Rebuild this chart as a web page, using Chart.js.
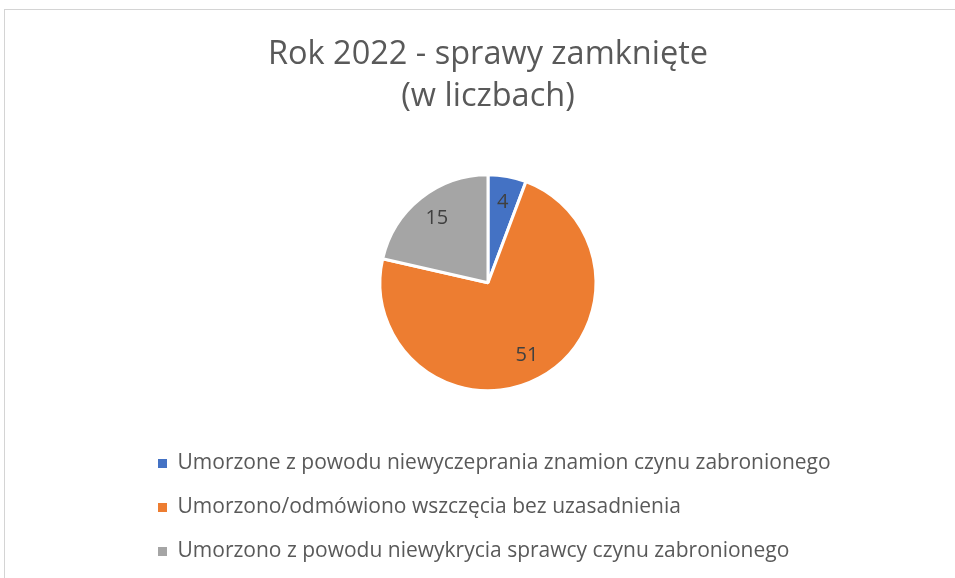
<!DOCTYPE html>
<html>
<head>
<meta charset="utf-8">
<script src="https://cdn.jsdelivr.net/npm/chart.js@4.4.0/dist/chart.umd.min.js"></script>
<style>
  html, body { margin: 0; padding: 0; background: #ffffff; overflow: hidden; }
  #frame {
    position: absolute; left: 4px; top: 9px; width: 1000px; height: 700px;
    border-left: 1px solid #d4d4d4; border-top: 1px solid #d4d4d4;
  }
  #chart { position: absolute; left: 0; top: 0; }
</style>
</head>
<body>
<div id="frame"></div>
<canvas id="chart" width="955" height="578"></canvas>
<script>
const titleLines = ['Rok 2022 - sprawy zamknięte', '(w liczbach)'];
const categories = [
    'Umorzone z powodu niewyczeprania znamion czynu zabronionego',
    'Umorzono/odmówiono wszczęcia bez uzasadnienia',
    'Umorzono z powodu niewykrycia sprawcy czynu zabronionego'
];
const values = [4, 51, 15];
const colors = ['#4472C4', '#ED7D31', '#A5A5A5'];

const fontFamily = '"Open Sans", Lato, sans-serif';

// numbers inside slices
const sliceLabels = {
    id: 'sliceLabels',
    afterDatasetsDraw(chart) {
        const ctx = chart.ctx;
        const meta = chart.getDatasetMeta(0);
        ctx.save();
        ctx.font = '20px ' + fontFamily;
        ctx.fillStyle = '#404040';
        ctx.textAlign = 'center';
        ctx.textBaseline = 'middle';
        meta.data.forEach((arc, i) => {
            const p = arc.getProps(['x', 'y', 'startAngle', 'endAngle', 'outerRadius'], true);
            const mid = (p.startAngle + p.endAngle) / 2;
            const r = p.outerRadius * 0.76;
            ctx.fillText(String(values[i]), p.x + Math.cos(mid) * r, p.y + Math.sin(mid) * r);
        });
        ctx.restore();
    }
};

const ctx = document.getElementById('chart').getContext('2d');
new Chart(ctx, {
    type: 'pie',
    data: {
        labels: categories,
        datasets: [{
            data: values,
            backgroundColor: colors,
            borderColor: '#ffffff',
            borderWidth: 3,
            radius: 108
        }]
    },
    options: {
        responsive: false,
        animation: false,
        layout: {
            padding: { left: 135, right: 114, top: 0, bottom: 6 }
        },
        plugins: {
            title: {
                display: true,
                text: titleLines,
                color: '#595959',
                font: { family: fontFamily, size: 32.5, weight: 'normal', lineHeight: 42 / 32.5 },
                padding: { top: 34, bottom: 17.5 }
            },
            legend: {
                position: 'bottom',
                align: 'start',
                labels: {
                    color: '#595959',
                    font: { family: fontFamily, size: 21 },
                    boxWidth: 9,
                    boxHeight: 9,
                    padding: 23,
                    generateLabels(chart) {
                        const items = Chart.overrides.pie.plugins.legend.labels.generateLabels(chart);
                        items.forEach(it => { it.lineWidth = 0; it.strokeStyle = 'rgba(0,0,0,0)'; });
                        return items;
                    }
                }
            },
            tooltip: { enabled: false }
        }
    },
    plugins: [sliceLabels]
});
</script>
</body>
</html>
